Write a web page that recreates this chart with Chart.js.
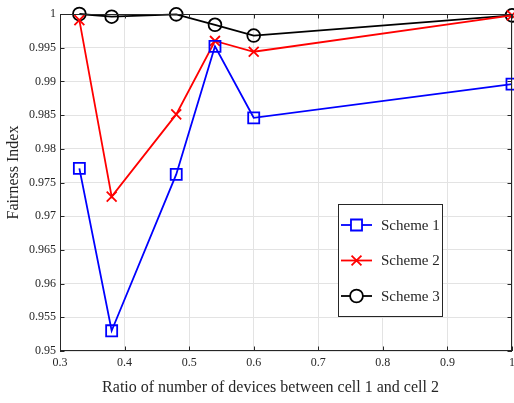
<!DOCTYPE html>
<html>
<head>
<meta charset="utf-8">
<script src="https://cdn.jsdelivr.net/npm/chart.js@4/dist/chart.umd.min.js"></script>
<style>
    html, body { margin: 0; padding: 0; background: #fff; }
    #wrap { width: 514px; height: 403px; }
</style>
</head>
<body>
<div id="wrap"><canvas id="fairness"></canvas></div>
<script>
    // values
    var ratios = [0.33, 0.38, 0.48, 0.54, 0.60, 1.00];
    var scheme1 = [0.9771, 0.9530, 0.9762, 0.9952, 0.9846, 0.9896];
    var scheme2 = [0.9991, 0.9729, 0.9851, 0.9960, 0.9944, 0.9998];
    var scheme3 = [1.0000, 0.9996, 0.99995, 0.9984, 0.9968, 0.9998];
    var seriesNames = ['Scheme 1', 'Scheme 2', 'Scheme 3'];
    var xTitle = 'Ratio of number of devices between cell 1 and cell 2';
    var yTitle = 'Fairness Index';

    var serif = '"Liberation Serif", "Times New Roman", serif';
    var axisColor = '#262626';

    function toPoints(values) {
        return values.map((v, i) => ({ x: ratios[i], y: v }));
    }

    function makeDataset(label, values, color, style, radius) {
        return {
            label: label,
            data: toPoints(values),
            borderColor: color,
            backgroundColor: 'rgba(0,0,0,0)',
            borderWidth: 1.8,
            pointStyle: style,
            pointRadius: radius,
            pointHoverRadius: radius,
            pointBorderColor: color,
            pointBorderWidth: 1.8,
            pointBackgroundColor: 'rgba(0,0,0,0)',
            tension: 0,
            clip: false
        };
    }

    // box, inward tick marks, axis titles and line+marker legend like the original plot
    var frameAndLegend = {
        id: 'frameAndLegend',
        afterDraw: function(chart) {
            var ctx = chart.ctx;
            var area = chart.chartArea;
            var xs = chart.scales.x, ys = chart.scales.y;
            ctx.save();
            ctx.strokeStyle = axisColor;
            ctx.lineWidth = 1;
            ctx.strokeRect(area.left + 0.5, area.top + 0.5, area.right - area.left - 1, area.bottom - area.top - 1);
            var len = 4.5;
            ctx.beginPath();
            xs.ticks.forEach(t => {
                var px = Math.round(xs.getPixelForValue(t.value)) + 0.5;
                ctx.moveTo(px, area.bottom); ctx.lineTo(px, area.bottom - len);
                ctx.moveTo(px, area.top); ctx.lineTo(px, area.top + len);
            });
            ys.ticks.forEach(t => {
                var py = Math.round(ys.getPixelForValue(t.value)) + 0.5;
                ctx.moveTo(area.left, py); ctx.lineTo(area.left + len, py);
                ctx.moveTo(area.right, py); ctx.lineTo(area.right - len, py);
            });
            ctx.stroke();

            // axis titles (sit a bit left / up of the plot centre in the original)
            ctx.fillStyle = axisColor;
            ctx.font = '16px ' + serif;
            ctx.textAlign = 'center';
            ctx.textBaseline = 'middle';
            ctx.fillText(xTitle, 270.5, 388);
            ctx.save();
            ctx.translate(14, 172.5);
            ctx.rotate(-Math.PI / 2);
            ctx.fillText(yTitle, 0, 0);
            ctx.restore();

            // legend box
            var bx = 338.5, by = 204.5, bw = 104, bh = 112;
            ctx.fillStyle = '#fff';
            ctx.fillRect(bx, by, bw, bh);
            ctx.strokeStyle = axisColor;
            ctx.strokeRect(bx, by, bw, bh);
            ctx.font = '15px ' + serif;
            ctx.textAlign = 'left';
            chart.data.datasets.forEach((ds, i) => {
                var cy = 225 + i * 35.5;
                ctx.strokeStyle = ds.borderColor;
                ctx.lineWidth = 1.8;
                ctx.beginPath();
                ctx.moveTo(341, cy); ctx.lineTo(372, cy);
                ctx.stroke();
                ctx.fillStyle = '#fff';
                Chart.helpers.drawPoint(ctx, {
                    pointStyle: ds.pointStyle,
                    radius: ds.pointRadius,
                    borderWidth: 1.8
                }, 356.5, cy);
                ctx.fillStyle = axisColor;
                ctx.fillText(seriesNames[i], 381, cy + 1);
            });
            ctx.restore();
        }
    };

    var ctx = document.getElementById('fairness').getContext('2d');
    new Chart(ctx, {
        type: 'line',
        data: {
            datasets: [
                makeDataset(seriesNames[0], scheme1, '#0000ff', 'rect', 7.8),
                makeDataset(seriesNames[1], scheme2, '#ff0000', 'crossRot', 7),
                makeDataset(seriesNames[2], scheme3, '#000000', 'circle', 6.4)
            ]
        },
        plugins: [frameAndLegend],
        options: {
            responsive: true,
            maintainAspectRatio: false,
            animation: false,
            events: [],
            layout: { autoPadding: false, padding: { top: 14, right: 2, left: 0, bottom: 0 } },
            plugins: {
                legend: { display: false },
                tooltip: { enabled: false }
            },
            scales: {
                x: {
                    type: 'linear',
                    min: 0.3,
                    max: 1,
                    ticks: {
                        stepSize: 0.1,
                        padding: 5,
                        color: axisColor,
                        font: { family: serif, size: 12 },
                        callback: v => String(Math.round(v * 10) / 10)
                    },
                    grid: { color: '#e3e3e3', lineWidth: 1, tickLength: 0 },
                    border: { display: false },
                    afterFit: function(scale) {
                        scale.height = 52;
                        scale.paddingLeft = 0;
                        scale.paddingRight = 0;
                    }
                },
                y: {
                    min: 0.95,
                    max: 1,
                    ticks: {
                        stepSize: 0.005,
                        padding: 4,
                        color: axisColor,
                        font: { family: serif, size: 12 },
                        callback: v => String(Math.round(v * 1000) / 1000)
                    },
                    grid: { color: '#e3e3e3', lineWidth: 1, tickLength: 0 },
                    border: { display: false },
                    afterFit: function(scale) {
                        scale.width = 60;
                        scale.paddingTop = 0;
                        scale.paddingBottom = 0;
                    }
                }
            }
        }
    });
</script>
</body>
</html>
